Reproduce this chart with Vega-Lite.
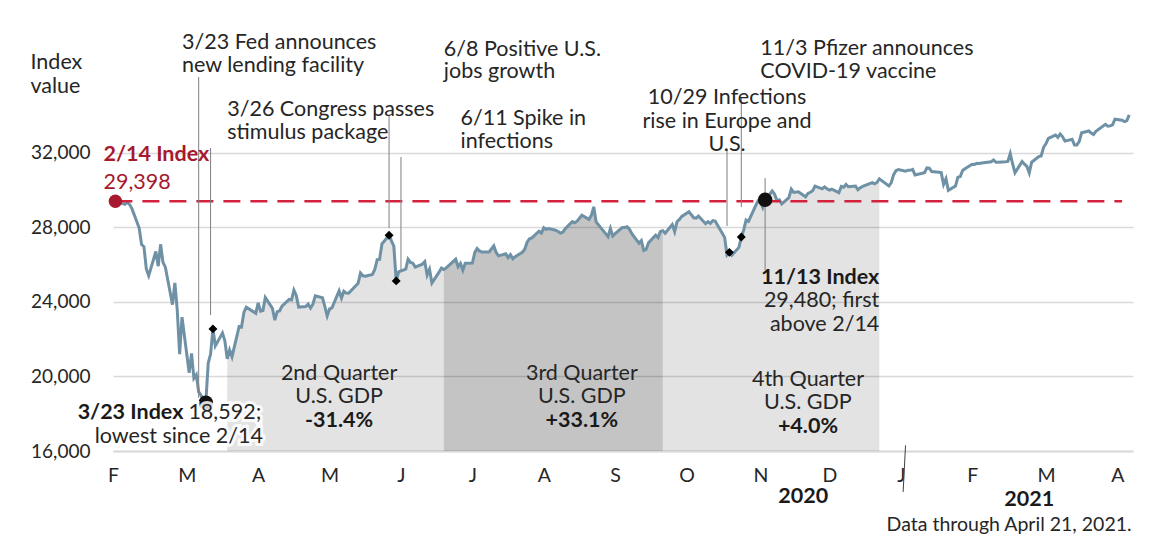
{
 "$schema": "https://vega.github.io/schema/vega-lite/v6.json",
 "width": 1020, "height": 410,
 "autosize": {"type": "none"},
 "padding": {"left": 113, "top": 41, "right": 20, "bottom": 95},
 "background": "white",
 "config": {"font": "Lato", "view": {"stroke": null}},
 "datasets": {
  "dow": [
{"d":"2020-02-14","v":29398},{"d":"2020-02-18","v":29232},{"d":"2020-02-19","v":29348},{"d":"2020-02-20","v":29220},{"d":"2020-02-21","v":28992},
{"d":"2020-02-24","v":27961},{"d":"2020-02-25","v":27081},{"d":"2020-02-26","v":26958},{"d":"2020-02-27","v":25767},{"d":"2020-02-28","v":25409},
{"d":"2020-03-02","v":26703},{"d":"2020-03-03","v":25917},{"d":"2020-03-04","v":27091},{"d":"2020-03-05","v":26121},{"d":"2020-03-06","v":25865},
{"d":"2020-03-09","v":23851},{"d":"2020-03-10","v":25018},{"d":"2020-03-11","v":23553},{"d":"2020-03-12","v":21201},{"d":"2020-03-13","v":23186},
{"d":"2020-03-16","v":20189},{"d":"2020-03-17","v":21237},{"d":"2020-03-18","v":19899},{"d":"2020-03-19","v":20087},{"d":"2020-03-20","v":19174},
{"d":"2020-03-23","v":18592},{"d":"2020-03-24","v":20705},{"d":"2020-03-25","v":21201},{"d":"2020-03-26","v":22552},{"d":"2020-03-27","v":21637},
{"d":"2020-03-30","v":22327},{"d":"2020-03-31","v":21917},{"d":"2020-04-01","v":20944},{"d":"2020-04-02","v":21413},{"d":"2020-04-03","v":21053},
{"d":"2020-04-06","v":22680},{"d":"2020-04-07","v":22654},{"d":"2020-04-08","v":23434},{"d":"2020-04-09","v":23719},{"d":"2020-04-13","v":23391},
{"d":"2020-04-14","v":23950},{"d":"2020-04-15","v":23504},{"d":"2020-04-16","v":23538},{"d":"2020-04-17","v":24242},{"d":"2020-04-20","v":23650},
{"d":"2020-04-21","v":23019},{"d":"2020-04-22","v":23476},{"d":"2020-04-23","v":23515},{"d":"2020-04-24","v":23775},{"d":"2020-04-27","v":24134},
{"d":"2020-04-28","v":24102},{"d":"2020-04-29","v":24634},{"d":"2020-04-30","v":24346},{"d":"2020-05-01","v":23724},{"d":"2020-05-04","v":23750},
{"d":"2020-05-05","v":23883},{"d":"2020-05-06","v":23665},{"d":"2020-05-07","v":23876},{"d":"2020-05-08","v":24331},{"d":"2020-05-11","v":24222},
{"d":"2020-05-12","v":23765},{"d":"2020-05-13","v":23248},{"d":"2020-05-14","v":23625},{"d":"2020-05-15","v":23685},{"d":"2020-05-18","v":24597},
{"d":"2020-05-19","v":24207},{"d":"2020-05-20","v":24576},{"d":"2020-05-21","v":24474},{"d":"2020-05-22","v":24465},{"d":"2020-05-26","v":24995},
{"d":"2020-05-27","v":25548},{"d":"2020-05-28","v":25401},{"d":"2020-05-29","v":25383},{"d":"2020-06-01","v":25475},{"d":"2020-06-02","v":25743},
{"d":"2020-06-03","v":26270},{"d":"2020-06-04","v":26282},{"d":"2020-06-05","v":27111},{"d":"2020-06-08","v":27572},{"d":"2020-06-09","v":27272},
{"d":"2020-06-10","v":26990},{"d":"2020-06-11","v":25128},{"d":"2020-06-12","v":25606},{"d":"2020-06-15","v":25763},{"d":"2020-06-16","v":26290},
{"d":"2020-06-17","v":26120},{"d":"2020-06-18","v":26080},{"d":"2020-06-19","v":25871},{"d":"2020-06-22","v":26025},{"d":"2020-06-23","v":26156},
{"d":"2020-06-24","v":25446},{"d":"2020-06-25","v":25746},{"d":"2020-06-26","v":25016},{"d":"2020-06-29","v":25596},{"d":"2020-06-30","v":25813},
{"d":"2020-07-01","v":25735},{"d":"2020-07-02","v":25827},{"d":"2020-07-06","v":26287},{"d":"2020-07-07","v":25890},{"d":"2020-07-08","v":26067},
{"d":"2020-07-09","v":25706},{"d":"2020-07-10","v":26075},{"d":"2020-07-13","v":26086},{"d":"2020-07-14","v":26643},{"d":"2020-07-15","v":26870},
{"d":"2020-07-16","v":26735},{"d":"2020-07-17","v":26672},{"d":"2020-07-20","v":26681},{"d":"2020-07-21","v":26840},{"d":"2020-07-22","v":27006},
{"d":"2020-07-23","v":26652},{"d":"2020-07-24","v":26470},{"d":"2020-07-27","v":26585},{"d":"2020-07-28","v":26379},{"d":"2020-07-29","v":26540},
{"d":"2020-07-30","v":26314},{"d":"2020-07-31","v":26428},{"d":"2020-08-03","v":26664},{"d":"2020-08-04","v":26828},{"d":"2020-08-05","v":27202},
{"d":"2020-08-06","v":27387},{"d":"2020-08-07","v":27433},{"d":"2020-08-10","v":27791},{"d":"2020-08-11","v":27687},{"d":"2020-08-12","v":27977},
{"d":"2020-08-13","v":27897},{"d":"2020-08-14","v":27931},{"d":"2020-08-17","v":27845},{"d":"2020-08-18","v":27778},{"d":"2020-08-19","v":27693},
{"d":"2020-08-20","v":27740},{"d":"2020-08-21","v":27930},{"d":"2020-08-24","v":28308},{"d":"2020-08-25","v":28248},{"d":"2020-08-26","v":28332},
{"d":"2020-08-27","v":28492},{"d":"2020-08-28","v":28654},{"d":"2020-08-31","v":28430},{"d":"2020-09-01","v":28646},{"d":"2020-09-02","v":29101},
{"d":"2020-09-03","v":28293},{"d":"2020-09-04","v":28133},{"d":"2020-09-08","v":27501},{"d":"2020-09-09","v":27940},{"d":"2020-09-10","v":27535},
{"d":"2020-09-11","v":27666},{"d":"2020-09-14","v":27993},{"d":"2020-09-15","v":27996},{"d":"2020-09-16","v":28032},{"d":"2020-09-17","v":27902},
{"d":"2020-09-18","v":27657},{"d":"2020-09-21","v":27148},{"d":"2020-09-22","v":27288},{"d":"2020-09-23","v":26763},{"d":"2020-09-24","v":26815},
{"d":"2020-09-25","v":27174},{"d":"2020-09-28","v":27584},{"d":"2020-09-29","v":27453},{"d":"2020-09-30","v":27782},{"d":"2020-10-01","v":27817},
{"d":"2020-10-02","v":27683},{"d":"2020-10-05","v":28149},{"d":"2020-10-06","v":27773},{"d":"2020-10-07","v":28303},{"d":"2020-10-08","v":28426},
{"d":"2020-10-09","v":28587},{"d":"2020-10-12","v":28838},{"d":"2020-10-13","v":28680},{"d":"2020-10-14","v":28514},{"d":"2020-10-15","v":28494},
{"d":"2020-10-16","v":28606},{"d":"2020-10-19","v":28195},{"d":"2020-10-20","v":28309},{"d":"2020-10-21","v":28211},{"d":"2020-10-22","v":28364},
{"d":"2020-10-23","v":28336},{"d":"2020-10-26","v":27685},{"d":"2020-10-27","v":27463},{"d":"2020-10-28","v":26520},{"d":"2020-10-29","v":26659},
{"d":"2020-10-30","v":26502},{"d":"2020-11-02","v":26925},{"d":"2020-11-03","v":27480},{"d":"2020-11-04","v":27848},{"d":"2020-11-05","v":28390},
{"d":"2020-11-06","v":28323},{"d":"2020-11-09","v":29158},{"d":"2020-11-10","v":29421},{"d":"2020-11-11","v":29398},{"d":"2020-11-12","v":29080},
{"d":"2020-11-13","v":29480},{"d":"2020-11-16","v":29950},{"d":"2020-11-17","v":29783},{"d":"2020-11-18","v":29438},{"d":"2020-11-19","v":29483},
{"d":"2020-11-20","v":29263},{"d":"2020-11-23","v":29591},{"d":"2020-11-24","v":30046},{"d":"2020-11-25","v":29872},{"d":"2020-11-27","v":29910},
{"d":"2020-11-30","v":29639},{"d":"2020-12-01","v":29824},{"d":"2020-12-02","v":29884},{"d":"2020-12-03","v":29970},{"d":"2020-12-04","v":30218},
{"d":"2020-12-07","v":30070},{"d":"2020-12-08","v":30174},{"d":"2020-12-09","v":30069},{"d":"2020-12-10","v":29999},{"d":"2020-12-11","v":30046},
{"d":"2020-12-14","v":29862},{"d":"2020-12-15","v":30199},{"d":"2020-12-16","v":30155},{"d":"2020-12-17","v":30303},{"d":"2020-12-18","v":30179},
{"d":"2020-12-21","v":30216},{"d":"2020-12-22","v":30016},{"d":"2020-12-23","v":30130},{"d":"2020-12-24","v":30200},{"d":"2020-12-28","v":30404},
{"d":"2020-12-29","v":30336},{"d":"2020-12-30","v":30410},{"d":"2020-12-31","v":30606},{"d":"2021-01-04","v":30224},{"d":"2021-01-05","v":30392},
{"d":"2021-01-06","v":30829},{"d":"2021-01-07","v":31041},{"d":"2021-01-08","v":31098},{"d":"2021-01-11","v":31009},{"d":"2021-01-12","v":31069},
{"d":"2021-01-13","v":31060},{"d":"2021-01-14","v":31112},{"d":"2021-01-15","v":30814},{"d":"2021-01-19","v":30931},{"d":"2021-01-20","v":31188},
{"d":"2021-01-21","v":31176},{"d":"2021-01-22","v":30997},{"d":"2021-01-25","v":30960},{"d":"2021-01-26","v":30937},{"d":"2021-01-27","v":30303},
{"d":"2021-01-28","v":30603},{"d":"2021-01-29","v":29983},{"d":"2021-02-01","v":30212},{"d":"2021-02-02","v":30687},{"d":"2021-02-03","v":30724},
{"d":"2021-02-04","v":31056},{"d":"2021-02-05","v":31148},{"d":"2021-02-08","v":31386},{"d":"2021-02-09","v":31376},{"d":"2021-02-10","v":31438},
{"d":"2021-02-11","v":31431},{"d":"2021-02-12","v":31458},{"d":"2021-02-16","v":31523},{"d":"2021-02-17","v":31613},{"d":"2021-02-18","v":31493},
{"d":"2021-02-19","v":31494},{"d":"2021-02-22","v":31522},{"d":"2021-02-23","v":31537},{"d":"2021-02-24","v":31962},{"d":"2021-02-25","v":31402},
{"d":"2021-02-26","v":30932},{"d":"2021-03-01","v":31536},{"d":"2021-03-02","v":31392},{"d":"2021-03-03","v":31270},{"d":"2021-03-04","v":30924},
{"d":"2021-03-05","v":31496},{"d":"2021-03-08","v":31802},{"d":"2021-03-09","v":31833},{"d":"2021-03-10","v":32297},{"d":"2021-03-11","v":32486},
{"d":"2021-03-12","v":32779},{"d":"2021-03-15","v":32953},{"d":"2021-03-16","v":32826},{"d":"2021-03-17","v":33015},{"d":"2021-03-18","v":32862},
{"d":"2021-03-19","v":32628},{"d":"2021-03-22","v":32731},{"d":"2021-03-23","v":32423},{"d":"2021-03-24","v":32420},{"d":"2021-03-25","v":32619},
{"d":"2021-03-26","v":33073},{"d":"2021-03-29","v":33171},{"d":"2021-03-30","v":33067},{"d":"2021-03-31","v":32982},{"d":"2021-04-01","v":33153},
{"d":"2021-04-05","v":33527},{"d":"2021-04-06","v":33430},{"d":"2021-04-07","v":33446},{"d":"2021-04-08","v":33504},{"d":"2021-04-09","v":33801},
{"d":"2021-04-12","v":33745},{"d":"2021-04-13","v":33677},{"d":"2021-04-14","v":33731},{"d":"2021-04-15","v":34036}
  ],
  "ref": [{"d":"2020-02-14","d2":"2021-04-12","v":29398}],
  "leaders": [
   {"d":"2020-03-20","v":36068,"v2":18843},
   {"d":"2020-03-25","v":32258,"v2":23297},
   {"d":"2020-06-08","v":34029,"v2":27966},
   {"d":"2020-06-13","v":31776,"v2":25712},
   {"d":"2020-10-28","v":32151,"v2":28073},
   {"d":"2020-11-03","v":34995,"v2":29092},
   {"d":"2020-11-13","v":30649,"v2":25712}
  ],
  "sep": [{"d":"2021-01-11","d2":"2021-01-10","v":16300,"v2":13800}],
  "events": [
   {"d":"2020-03-26","v":22552},{"d":"2020-06-08","v":27572},{"d":"2020-06-11","v":25128},
   {"d":"2020-10-29","v":26659},{"d":"2020-11-03","v":27480}
  ],
  "start": [{"d":"2020-02-14","v":29398}],
  "marks": [{"d":"2020-03-23","v":18592},{"d":"2020-11-13","v":29480}],
  "tLeft": [
   {"d":"2020-03-13","v":37893,"t":"3/23 Fed announces"},
   {"d":"2020-03-13","v":36642,"t":"new lending facility"},
   {"d":"2020-04-01","v":34297,"t":"3/26 Congress passes"},
   {"d":"2020-04-01","v":33079,"t":"stimulus package"},
   {"d":"2020-07-01","v":37533,"t":"6/8 Positive U.S."},
   {"d":"2020-07-01","v":36337,"t":"jobs growth"},
   {"d":"2020-07-08","v":33841,"t":"6/11 Spike in"},
   {"d":"2020-07-08","v":32597,"t":"infections"},
   {"d":"2020-11-11","v":37581,"t":"11/3 Pfizer announces"},
   {"d":"2020-11-11","v":36337,"t":"COVID-19 vaccine"}
  ],
  "tCenter": [
   {"d":"2020-10-28","v":34952,"t":"10/29 Infections"},
   {"d":"2020-10-28","v":33670,"t":"rise in Europe and"},
   {"d":"2020-10-28","v":32436,"t":"U.S."},
   {"d":"2020-05-18","v":20131,"t":"2nd Quarter"},
   {"d":"2020-05-18","v":18881,"t":"U.S. GDP"},
   {"d":"2020-08-28","v":20131,"t":"3rd Quarter"},
   {"d":"2020-08-28","v":18881,"t":"U.S. GDP"},
   {"d":"2020-12-01","v":19809,"t":"4th Quarter"},
   {"d":"2020-12-01","v":18575,"t":"U.S. GDP"}
  ],
  "tCenterBold": [
   {"d":"2020-05-18","v":17598,"t":"-31.4%"},
   {"d":"2020-08-28","v":17598,"t":"+33.1%"},
   {"d":"2020-12-01","v":17277,"t":"+4.0%"},
   {"d":"2020-11-29","v":13531,"t":"2020"},
   {"d":"2021-03-04","v":13370,"t":"2021"}
  ],
  "tRightBold": [{"d":"2020-12-31","v":25293,"t":"11/13 Index"}],
  "tRight": [
   {"d":"2020-12-31","v":24048,"t":"29,480; first"},
   {"d":"2020-12-31","v":22761,"t":"above 2/14"}
  ],
  "tNote": [{"d":"2021-04-16","v":12029,"t":"Data through April 21, 2021."}],
  "tRedBold": [{"d":"2020-02-09","v":31899,"t":"2/14 Index"}],
  "tRed": [{"d":"2020-02-09","v":30364,"t":"29,398"}],
  "tLowBold": [{"d":"2020-03-14","v":18022,"t":"3/23 Index"}],
  "tLowLeft": [{"d":"2020-03-14","v":18022,"t":"18,592;"}],
  "tLowRight": [{"d":"2020-04-16","v":16762,"t":"lowest since 2/14"}]
 },
 "encoding": {
  "x": {"field": "d", "type": "temporal",
   "scale": {"type": "utc", "domain": [{"year":2020,"month":2,"date":13,"utc":true},{"year":2021,"month":4,"date":16,"hours":14,"utc":true}]},
   "axis": {"title": null, "ticks": false, "grid": false, "domain": true, "domainColor": "#D9D9D9", "domainWidth": 2,
    "values": [
     {"year":2020,"month":2,"date":13,"utc":true},{"year":2020,"month":3,"date":15,"utc":true},{"year":2020,"month":4,"date":14,"utc":true},
     {"year":2020,"month":5,"date":14,"utc":true},{"year":2020,"month":6,"date":13,"utc":true},{"year":2020,"month":7,"date":13,"utc":true},
     {"year":2020,"month":8,"date":12,"utc":true},{"year":2020,"month":9,"date":11,"utc":true},{"year":2020,"month":10,"date":11,"utc":true},
     {"year":2020,"month":11,"date":11,"utc":true},{"year":2020,"month":12,"date":10,"utc":true},{"year":2021,"month":1,"date":9,"utc":true},
     {"year":2021,"month":2,"date":8,"utc":true},{"year":2021,"month":3,"date":11,"utc":true},{"year":2021,"month":4,"date":10,"utc":true}],
    "labelExpr": "substring(utcFormat(datum.value, '%b'), 0, 1)",
    "labelFont": "Lato", "labelFontSize": 19.5, "labelColor": "#262626", "labelPadding": 15, "labelFlush": false, "labelOverlap": false}},
  "y": {"field": "v", "type": "quantitative",
   "scale": {"domain": [16000, 38000], "zero": false, "nice": false},
   "axis": {"title": ["Index", "value"], "titleAngle": 0, "titleAlign": "left", "titleBaseline": "alphabetic",
    "titleX": -83, "titleY": 27, "titleFont": "Lato", "titleFontSize": 21.5, "titleFontWeight": "normal", "titleColor": "#262626", "titleLineHeight": 24,
    "values": [16000, 20000, 24000, 28000, 32000], "format": ",.0f", "ticks": false, "domain": false,
    "grid": true, "gridColor": "#D9D9D9", "gridWidth": 1.3,
    "labelFont": "Lato", "labelFontSize": 19, "labelColor": "#262626", "labelPadding": 23}}
 },
 "layer": [
  {"data": {"name": "dow"}, "transform": [{"filter": {"field": "d", "range": [{"year":2020,"month":4,"date":1,"utc":true},{"year":2020,"month":7,"date":1,"utc":true}]}}],
   "mark": {"type": "area", "color": "#000000", "opacity": 0.11}, "encoding": {"y2": {"datum": 16000}}},
  {"data": {"name": "dow"}, "transform": [{"filter": {"field": "d", "range": [{"year":2020,"month":7,"date":1,"utc":true},{"year":2020,"month":10,"date":1,"utc":true}]}}],
   "mark": {"type": "area", "color": "#000000", "opacity": 0.23}, "encoding": {"y2": {"datum": 16000}}},
  {"data": {"name": "dow"}, "transform": [{"filter": {"field": "d", "range": [{"year":2020,"month":10,"date":1,"utc":true},{"year":2020,"month":12,"date":31,"utc":true}]}}],
   "mark": {"type": "area", "color": "#000000", "opacity": 0.11}, "encoding": {"y2": {"datum": 16000}}},
  {"data": {"name": "dow"}, "mark": {"type": "line", "color": "#6F91A5", "strokeWidth": 3}},
  {"data": {"name": "ref"}, "mark": {"type": "rule", "color": "#D4213D", "strokeWidth": 2.5, "strokeDash": [17, 10]},
   "encoding": {"x2": {"field": "d2"}}},
  {"data": {"name": "leaders"}, "mark": {"type": "rule", "color": "#7F7F7F", "strokeWidth": 1},
   "encoding": {"y2": {"field": "v2"}}},
  {"data": {"name": "sep"}, "mark": {"type": "rule", "color": "#404040", "strokeWidth": 1},
   "encoding": {"x2": {"field": "d2"}, "y2": {"field": "v2"}}},
  {"data": {"name": "events"}, "mark": {"type": "point", "shape": "diamond", "filled": true, "color": "#000000", "size": 80, "opacity": 1}},
  {"data": {"name": "start"}, "mark": {"type": "circle", "color": "#A6192E", "size": 180, "opacity": 1}},
  {"data": {"name": "marks"}, "mark": {"type": "circle", "color": "#111111", "size": 210, "opacity": 1}},
  {"data": {"name": "tLeft"}, "mark": {"type": "text", "align": "left", "baseline": "middle", "fontSize": 21.5, "color": "#262626"}, "encoding": {"text": {"field": "t"}}},
  {"data": {"name": "tCenter"}, "mark": {"type": "text", "align": "center", "baseline": "middle", "fontSize": 21.5, "color": "#262626"}, "encoding": {"text": {"field": "t"}}},
  {"data": {"name": "tCenterBold"}, "mark": {"type": "text", "align": "center", "baseline": "middle", "fontSize": 21.5, "fontWeight": "bold", "color": "#1A1A1A"}, "encoding": {"text": {"field": "t"}}},
  {"data": {"name": "tRightBold"}, "mark": {"type": "text", "align": "right", "baseline": "middle", "fontSize": 21.5, "fontWeight": "bold", "color": "#1A1A1A"}, "encoding": {"text": {"field": "t"}}},
  {"data": {"name": "tRight"}, "mark": {"type": "text", "align": "right", "baseline": "middle", "fontSize": 21.5, "color": "#262626"}, "encoding": {"text": {"field": "t"}}},
  {"data": {"name": "tNote"}, "mark": {"type": "text", "align": "right", "baseline": "middle", "fontSize": 19.5, "color": "#262626"}, "encoding": {"text": {"field": "t"}}},
  {"data": {"name": "tRedBold"}, "mark": {"type": "text", "align": "left", "baseline": "middle", "fontSize": 21.5, "fontWeight": "bold", "color": "#A6192E"}, "encoding": {"text": {"field": "t"}}},
  {"data": {"name": "tRed"}, "mark": {"type": "text", "align": "left", "baseline": "middle", "fontSize": 21.5, "color": "#A6192E"}, "encoding": {"text": {"field": "t"}}},
  {"data": {"name": "tLowBold"}, "mark": {"type": "text", "align": "right", "baseline": "middle", "dx": -1, "fontSize": 21.5, "fontWeight": "bold", "color": "#FFFFFF", "stroke": "#FFFFFF", "strokeWidth": 6, "strokeOpacity": 0.85}, "encoding": {"text": {"field": "t"}}},
  {"data": {"name": "tLowLeft"}, "mark": {"type": "text", "align": "left", "baseline": "middle", "dx": 4, "fontSize": 21.5, "color": "#FFFFFF", "stroke": "#FFFFFF", "strokeWidth": 6, "strokeOpacity": 0.85}, "encoding": {"text": {"field": "t"}}},
  {"data": {"name": "tLowRight"}, "mark": {"type": "text", "align": "right", "baseline": "middle", "fontSize": 21.5, "color": "#FFFFFF", "stroke": "#FFFFFF", "strokeWidth": 6, "strokeOpacity": 0.85}, "encoding": {"text": {"field": "t"}}},
  {"data": {"name": "tLowBold"}, "mark": {"type": "text", "align": "right", "baseline": "middle", "dx": -1, "fontSize": 21.5, "fontWeight": "bold", "color": "#1A1A1A"}, "encoding": {"text": {"field": "t"}}},
  {"data": {"name": "tLowLeft"}, "mark": {"type": "text", "align": "left", "baseline": "middle", "dx": 4, "fontSize": 21.5, "color": "#262626"}, "encoding": {"text": {"field": "t"}}},
  {"data": {"name": "tLowRight"}, "mark": {"type": "text", "align": "right", "baseline": "middle", "fontSize": 21.5, "color": "#262626"}, "encoding": {"text": {"field": "t"}}}
 ]
}
